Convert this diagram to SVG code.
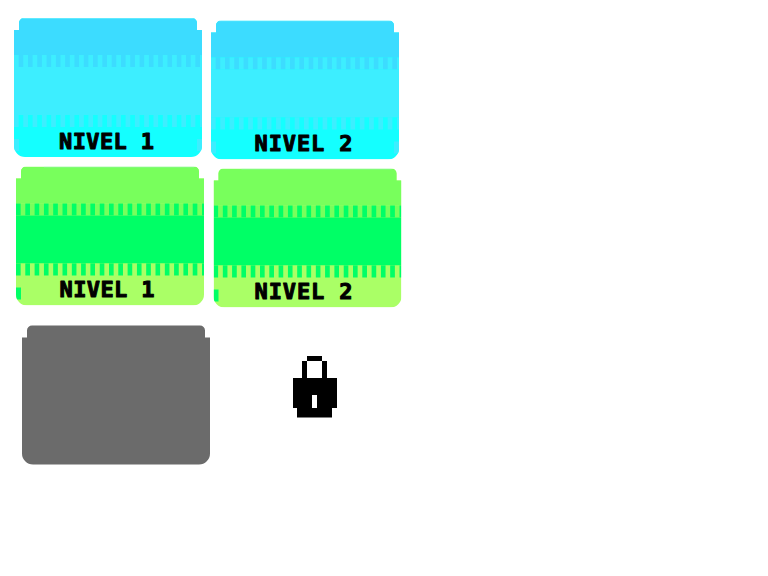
<svg xmlns="http://www.w3.org/2000/svg" xmlns:xlink="http://www.w3.org/1999/xlink" width="768" height="576" viewBox="0 0 768 576">
<style>
.lbl{font-family:"DejaVu Sans Mono","Liberation Mono",monospace;font-weight:700;font-size:22px;fill:#000;stroke:#000;stroke-width:1;stroke-linejoin:round}
</style>
<defs>
<path id="shape" d="M5 12V5A5 5 0 0 1 10 0H178A5 5 0 0 1 183 5V12H188V128A11 11 0 0 1 177 139H11A11 11 0 0 1 0 128V12Z"/>
<clipPath id="clip"><use xlink:href="#shape"/></clipPath>
<pattern id="tb" width="9.300" height="12" patternUnits="userSpaceOnUse" x="0" y="37"><rect width="4.650" height="12" fill="#3deeff"/><rect x="4.650" width="4.650" height="12" fill="#3cdcff"/></pattern>
<pattern id="bb" width="9.300" height="12" patternUnits="userSpaceOnUse" x="0" y="97"><rect width="4.650" height="12" fill="#3deeff"/><rect x="4.650" width="4.650" height="12" fill="#14ffff"/></pattern>
<pattern id="tg" width="9.300" height="12" patternUnits="userSpaceOnUse" x="0" y="37"><rect width="4.650" height="12" fill="#00ff66"/><rect x="4.650" width="4.650" height="12" fill="#78ff5c"/></pattern>
<pattern id="bg" width="9.300" height="12" patternUnits="userSpaceOnUse" x="0" y="97"><rect width="4.650" height="12" fill="#00ff66"/><rect x="4.650" width="4.650" height="12" fill="#aaff66"/></pattern>
<g id="blue" clip-path="url(#clip)">
<rect width="188" height="139" fill="#14ffff"/>
<rect width="188" height="37" fill="#3cdcff"/>
<rect y="37" width="188" height="12" fill="url(#tb)"/>
<rect y="49" width="188" height="48" fill="#3deeff"/>
<rect y="97" width="188" height="12" fill="url(#bb)"/>
<rect y="121" width="5" height="12" fill="#3deeff"/>
<rect x="183" y="121" width="5" height="12" fill="#3deeff"/>
<rect width="188" height="0.700" fill="#70f0ff"/>
</g>
<g id="green" clip-path="url(#clip)">
<rect width="188" height="139" fill="#aaff66"/>
<rect width="188" height="37" fill="#78ff5c"/>
<rect y="37" width="188" height="12" fill="url(#tg)"/>
<rect y="49" width="188" height="48" fill="#00ff66"/>
<rect y="97" width="188" height="12" fill="url(#bg)"/>
<rect y="121" width="5" height="12" fill="#00ff66"/>
<rect x="28" width="150" height="0.700" fill="#a0f0e0"/>
</g>
</defs>
<g id="blue-level-1" transform="translate(14 18)"><use xlink:href="#blue"/><text class="lbl" x="45" y="131" textLength="95" lengthAdjust="spacing">NIVEL 1</text></g>
<g id="blue-level-2" transform="translate(211 20.500)"><use xlink:href="#blue"/><text class="lbl" x="43.500" y="130.500" textLength="98" lengthAdjust="spacing">NIVEL 2</text></g>
<g id="green-level-1" transform="translate(16 166.500)"><use xlink:href="#green"/><text class="lbl" x="43.500" y="130.500" textLength="95" lengthAdjust="spacing">NIVEL 1</text></g>
<g id="green-level-2" transform="translate(213.500 168.500)"><use xlink:href="#green"/><text class="lbl" x="41" y="130.500" textLength="98" lengthAdjust="spacing">NIVEL 2</text></g>
<g id="locked-level" transform="translate(22 325.500)"><use xlink:href="#shape" fill="#6b6b6b"/></g>
<g id="lock">
<path fill="#000" d="M307 356H322V361H327V378H337V408H332V417.500H297V408H293V378H302V361H307Z"/>
<rect x="307" y="361" width="15" height="17" fill="#fff"/>
<rect x="312" y="395" width="5" height="13" fill="#fff"/>
</g>
</svg>
